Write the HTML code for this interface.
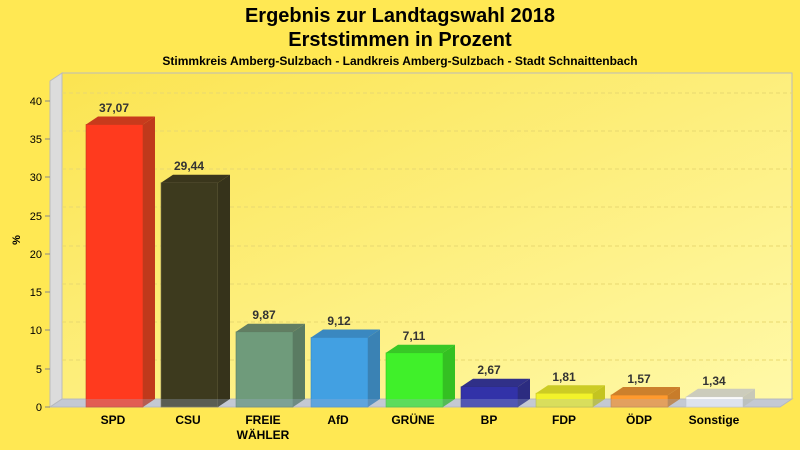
<!DOCTYPE html><html><head><meta charset="utf-8"><style>body{margin:0;background:#ffe853}svg{display:block}text{font-family:"Liberation Sans",sans-serif}</style></head><body>
<svg width="800" height="450" xmlns="http://www.w3.org/2000/svg">
<defs><linearGradient id="g" x1="0" y1="0" x2="1" y2="1"><stop offset="0" stop-color="#fbe451"/><stop offset="1" stop-color="#fff9a8"/></linearGradient></defs>
<rect width="800" height="450" fill="#ffe853"/>
<text x="400" y="22" font-size="20" font-weight="bold" text-anchor="middle">Ergebnis zur Landtagswahl 2018</text>
<text x="400" y="46" font-size="20" font-weight="bold" text-anchor="middle">Erststimmen in Prozent</text>
<text x="400" y="65" font-size="12" font-weight="bold" text-anchor="middle">Stimmkreis Amberg-Sulzbach - Landkreis Amberg-Sulzbach - Stadt Schnaittenbach</text>
<rect x="62" y="73" width="730" height="326" fill="url(#g)" stroke="#bbb" stroke-width="1"/>
<polygon points="50,81 62,73 62,399 50,407" fill="#dcdcdc" stroke="#bbb"/>
<polygon points="50,407 62,399 792,399 780,407" fill="#d4d4d4" stroke="#bbb"/>
<g stroke="#e8d870" stroke-dasharray="4,3" fill="none">
<path d="M62,93H792M62,131H792M62,169H792M62,207H792M62,246H792M62,284H792M62,322H792M62,360H792"/>
</g>
<g font-size="11" text-anchor="end">
<text x="42" y="105">40</text><text x="42" y="143">35</text><text x="42" y="181">30</text><text x="42" y="220">25</text><text x="42" y="258">20</text><text x="42" y="296">15</text><text x="42" y="334">10</text><text x="42" y="373">5</text><text x="42" y="411">0</text>
</g>
<g stroke="#888"><path d="M45,101H50M45,139H50M45,177H50M45,216H50M45,254H50M45,292H50M45,330H50M45,369H50M45,407H50"/></g>
<text x="20" y="240" font-size="11" font-weight="bold" transform="rotate(-90 20 240)" text-anchor="middle">%</text>
<g stroke-width="0.6">
<g><rect x="86" y="124.5" width="57" height="282.5" fill="#ff3a1e" stroke="#c0391b"/><polygon points="143,124.5 155,116.5 155,399 143,407" fill="#c0391b"/><polygon points="86,124.5 98,116.5 155,116.5 143,124.5" fill="#c83a1c"/></g>
<g><rect x="161" y="182.7" width="57" height="224.3" fill="#3d3a1e" stroke="#77704a"/><polygon points="218,182.7 230,174.7 230,399 218,407" fill="#36331b"/><polygon points="161,182.7 173,174.7 230,174.7 218,182.7" fill="#3a361c"/></g>
<g><rect x="236" y="331.8" width="57" height="75.2" fill="#6f9b7b" stroke="#587a62"/><polygon points="293,331.8 305,323.8 305,399 293,407" fill="#5a7b62"/><polygon points="236,331.8 248,323.8 305,323.8 293,331.8" fill="#627e62"/></g>
<g><rect x="311" y="337.5" width="57" height="69.5" fill="#42a0e2" stroke="#3a88c0"/><polygon points="368,337.5 380,329.5 380,399 368,407" fill="#3a82b4"/><polygon points="311,337.5 323,329.5 380,329.5 368,337.5" fill="#3a88c0"/></g>
<g><rect x="386" y="352.8" width="57" height="54.2" fill="#40f02a" stroke="#36c024"/><polygon points="443,352.8 455,344.8 455,399 443,407" fill="#34c022"/><polygon points="386,352.8 398,344.8 455,344.8 443,352.8" fill="#38c826"/></g>
<g><rect x="461" y="386.7" width="57" height="20.3" fill="#3232a8" stroke="#2a2a80"/><polygon points="518,386.7 530,378.7 530,399 518,407" fill="#2c2c80"/><polygon points="461,386.7 473,378.7 530,378.7 518,386.7" fill="#303088"/></g>
<g><rect x="536" y="393.2" width="57" height="13.8" fill="#f2f22a" stroke="#c0c020"/><polygon points="593,393.2 605,385.2 605,399 593,407" fill="#c4c420"/><polygon points="536,393.2 548,385.2 605,385.2 593,393.2" fill="#cccc24"/></g>
<g><rect x="611" y="395" width="57" height="12" fill="#ff9a2e" stroke="#c87a28"/><polygon points="668,395 680,387 680,399 668,407" fill="#c87c2a"/><polygon points="611,395 623,387 680,387 668,395" fill="#cc802c"/></g>
<g><rect x="686" y="396.8" width="57" height="10.2" fill="#fafafa" stroke="#ccc"/><polygon points="743,396.8 755,388.8 755,399 743,407" fill="#c8c8b8"/><polygon points="686,396.8 698,388.8 755,388.8 743,396.8" fill="#ccccbc"/></g>
</g>
<polygon points="50,407 62,399 792,399 780,407" fill="#a0b0d0" opacity="0.3"/>
<g font-size="12" font-weight="bold" text-anchor="middle" fill="#333">
<text x="114" y="112">37,07</text><text x="189" y="170">29,44</text><text x="264" y="319">9,87</text><text x="339" y="325">9,12</text><text x="414" y="340">7,11</text><text x="489" y="374">2,67</text><text x="564" y="381">1,81</text><text x="639" y="383">1,57</text><text x="714" y="385">1,34</text>
</g>
<g font-size="12" font-weight="bold" text-anchor="middle">
<text x="113" y="424">SPD</text><text x="188" y="424">CSU</text><text x="263" y="424">FREIE</text><text x="263" y="439">WÄHLER</text><text x="338" y="424">AfD</text><text x="413" y="424">GRÜNE</text><text x="489" y="424">BP</text><text x="564" y="424">FDP</text><text x="639" y="424">ÖDP</text><text x="714" y="424">Sonstige</text>
</g>
</svg></body></html>
